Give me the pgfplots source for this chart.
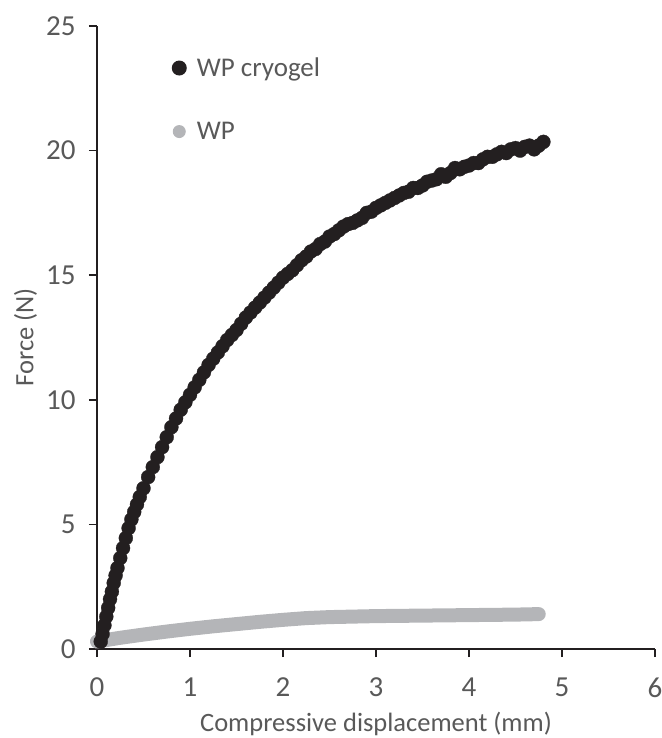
\documentclass[border=0pt]{standalone}
\usepackage{pgfplots}
\pgfplotsset{compat=1.18}
\usepackage{fontspec}
\setmainfont{Carlito}
\definecolor{cryo}{HTML}{231F20}
\definecolor{wp}{HTML}{B4B5B8}
\definecolor{txt}{HTML}{595959}
\pgfplotstableread{
x y
0.04 0.30
0.06 0.60
0.08 0.95
0.10 1.30
0.12 1.65
0.14 2.00
0.16 2.30
0.18 2.65
0.20 2.95
0.22 3.25
0.25 3.65
0.28 4.05
0.31 4.45
0.34 4.85
0.37 5.20
0.40 5.50
0.43 5.80
0.46 6.10
0.50 6.45
0.55 6.90
0.60 7.30
0.65 7.70
0.70 8.10
0.75 8.50
0.80 8.90
0.85 9.25
0.90 9.60
0.95 9.90
1.00 10.20
1.05 10.50
1.10 10.80
1.15 11.10
1.20 11.40
1.25 11.65
1.30 11.90
1.35 12.15
1.40 12.40
1.45 12.60
1.50 12.80
1.55 13.05
1.60 13.30
1.65 13.50
1.70 13.70
1.75 13.90
1.80 14.10
1.85 14.30
1.90 14.50
1.95 14.70
2.00 14.90
2.05 15.05
2.10 15.20
2.15 15.40
2.20 15.60
2.25 15.75
2.30 15.95
2.35 16.05
2.40 16.25
2.45 16.35
2.50 16.55
2.55 16.65
2.60 16.80
2.65 16.95
2.70 17.05
2.75 17.10
2.80 17.20
2.85 17.30
2.90 17.50
2.95 17.55
3.00 17.70
3.05 17.80
3.10 17.90
3.15 18.00
3.20 18.10
3.25 18.20
3.30 18.30
3.35 18.35
3.40 18.50
3.45 18.50
3.50 18.60
3.55 18.75
3.60 18.80
3.65 18.85
3.70 19.05
3.75 18.95
3.80 19.10
3.85 19.30
3.90 19.25
3.95 19.35
4.00 19.40
4.05 19.50
4.10 19.50
4.15 19.65
4.20 19.75
4.25 19.75
4.30 19.85
4.35 19.95
4.40 19.90
4.45 20.05
4.50 20.10
4.55 20.00
4.60 20.15
4.65 20.20
4.70 20.05
4.75 20.20
4.80 20.35
}\cryotable
\pgfplotstableread{
x y
0.00 0.30
0.25 0.45
0.50 0.58
0.75 0.70
1.00 0.81
1.25 0.91
1.50 1.00
1.75 1.09
2.00 1.17
2.25 1.24
2.50 1.28
2.75 1.30
3.00 1.32
3.50 1.34
4.00 1.36
4.50 1.38
4.75 1.40
}\wptable
\begin{document}
\begin{tikzpicture}
\begin{axis}[
  name=ax,
  scale only axis,
  width=558pt, height=623pt,
  xmin=0, xmax=6, ymin=0, ymax=25,
  axis lines=left,
  axis line style={-, line width=1.5pt, color=cryo},
  xtick={0,1,2,3,4,5,6},
  ytick={0,5,10,15,20,25},
  tick align=outside,
  major tick length=8pt,
  tick style={line width=1.5pt, color=cryo},
  clip=false,
  /pgf/number format/assume math mode=true,
  ticklabel style={font=\fontsize{29}{33}\selectfont, text=txt},
  xticklabel style={yshift=-17pt},
  yticklabel style={xshift=-10pt},
  xlabel={Compressive displacement (mm)},
  ylabel={Force (N)},
  label style={font=\fontsize{26.5}{31}\selectfont, text=txt},
  xlabel style={at={(axis description cs:0.5,-0.1195)}, anchor=center},
  ylabel style={at={(axis description cs:-0.128,0.5)}, anchor=center},
  legend style={draw=none, fill=none, at={(axis description cs:0.134,0.952)}, anchor=north west,
    font=\fontsize{27}{31}\selectfont, text=txt, inner sep=0pt, outer sep=0pt,
    row sep=40pt, /tikz/every odd column/.append style={column sep=8pt}},
  legend cell align=left,
]
\addplot[only marks, mark=*, mark size=7pt, color=cryo, mark options={line width=0.3pt},
  legend image code/.code={\path[fill=cryo, draw=none] (7pt,0pt) circle (7.5pt);}] table {\cryotable};
\addlegendentry{WP cryogel}
\addplot[line width=14pt, color=wp, line cap=round, line join=round,
  legend image code/.code={\path[fill=wp, draw=none, line width=0pt] (7pt,0pt) circle (6.5pt);}] table {\wptable};
\addlegendentry{WP}
\end{axis}
\pgfresetboundingbox
\path (ax.south west) ++(-97pt,-89pt) rectangle ++(661pt,738pt);
\end{tikzpicture}
\end{document}
